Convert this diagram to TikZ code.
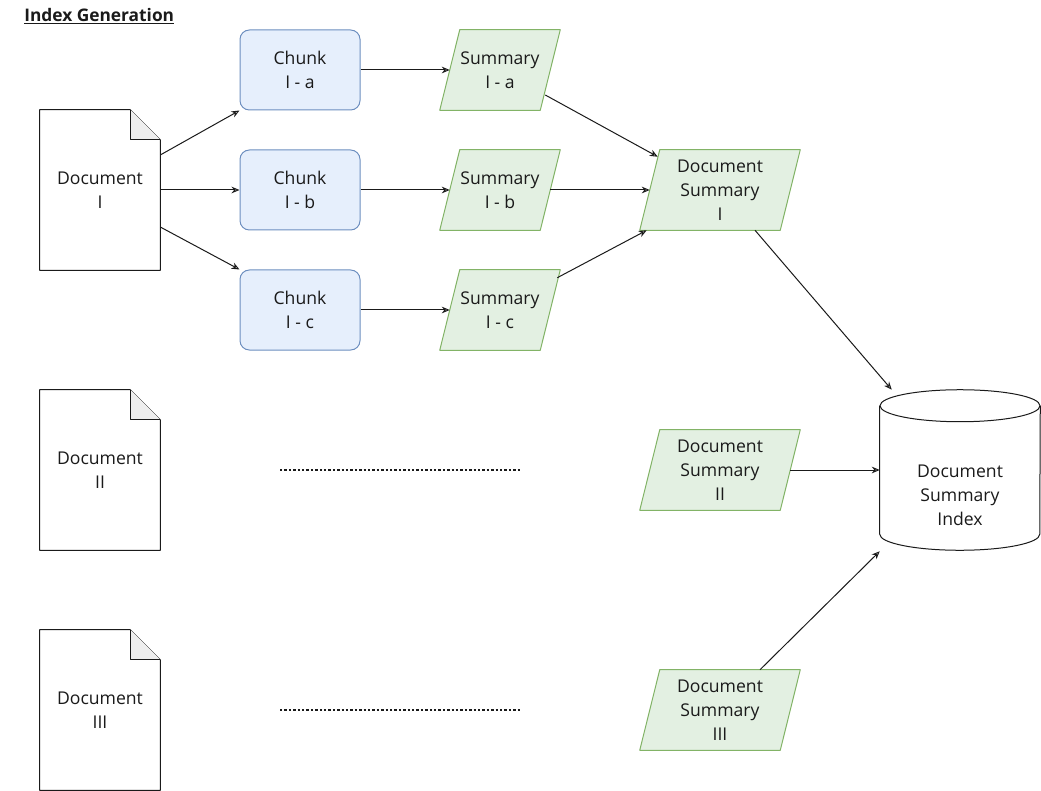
\documentclass[tikz,border=0pt]{standalone}
\usepackage{fontspec}
\setmainfont{Open Sans}
\usetikzlibrary{arrows.meta,calc,backgrounds}
\definecolor{bfill}{HTML}{E6EFFC}
\definecolor{bline}{HTML}{6C8EBF}
\definecolor{gfill}{HTML}{E3F0E2}
\definecolor{gline}{HTML}{82B366}
\definecolor{fold}{HTML}{EEEEEE}
\definecolor{ink}{HTML}{1A1A1A}
\begin{document}
\begin{tikzpicture}[x=0.75pt,y=-0.75pt,
  font=\fontsize{13.2}{18}\selectfont,
  every node/.style={text=ink, align=center, inner sep=0pt},
  box/.style={rectangle, minimum width=90pt, minimum height=60pt},
  docbox/.style={rectangle, minimum width=90pt, minimum height=120pt},
  chunkbox/.style={box, draw=bline, fill=bfill, rounded corners=7pt, line width=0.75pt},
  wide/.style={rectangle, minimum width=120pt, minimum height=60pt},
  outline/.style={draw=ink, line width=0.75pt, fill=white, line join=round},
  para/.style={draw=gline, fill=gfill, line width=0.75pt, line join=round},
  conn/.style={draw=ink, line width=0.75pt, -{Stealth[open,length=6pt,width=5pt]}},
  dotline/.style={draw=ink, line width=1.4pt, dash pattern=on 1.8pt off 1.5pt}
]
\useasboundingbox (0,0) rectangle (1041,791);

% title
\node[anchor=west, font=\fontsize{13}{15}\selectfont\bfseries] (title) at (24,16) {\underline{Index Generation}};

% documents
\node[docbox] (d1) at (100,190) {Document\\I};
\node[docbox] (d2) at (100,470) {Document\\II};
\node[docbox] (d3) at (100,710) {Document\\III};

% chunks
\node[chunkbox] (ca) at (300,70) {Chunk\\I - a};
\node[chunkbox] (cb) at (300,190) {Chunk\\I - b};
\node[chunkbox] (cc) at (300,310) {Chunk\\I - c};

% summaries
\node[box] (sa) at (500,70) {Summary\\I - a};
\node[box] (sb) at (500,190) {Summary\\I - b};
\node[box] (sc) at (500,310) {Summary\\I - c};

% document summaries
\node[wide] (ds1) at (720,190) {Document\\Summary\\I};
\node[wide] (ds2) at (720,470) {Document\\Summary\\II};
\node[wide] (ds3) at (720,710) {Document\\Summary\\III};

% database
\node[rectangle, minimum width=120pt, minimum height=120pt] (db) at (960,470) {};
\node (dbl) at (960,495) {Document\\Summary\\Index};

\begin{scope}[on background layer]
  \foreach \d in {d1,d2,d3}{
    \draw[outline] (\d.north west) -- ($(\d.north east)+(-30,0)$) -- ($(\d.north east)+(0,30)$)
      -- (\d.south east) -- (\d.south west) -- cycle;
    \draw[outline, fill=fold] ($(\d.north east)+(-30,0)$) -- ($(\d.north east)+(-30,30)$) -- ($(\d.north east)+(0,30)$);
  }
  \foreach \s in {sa,sb,sc}{
    \draw[para] ($(\s.north west)+(20,0)$) -- (\s.north east) -- ($(\s.south east)+(-20,0)$) -- (\s.south west) -- cycle;
  }
  \foreach \s in {ds1,ds2,ds3}{
    \draw[para] ($(\s.north west)+(20,0)$) -- (\s.north east) -- ($(\s.south east)+(-20,0)$) -- (\s.south west) -- cycle;
  }
  % cylinder
  \draw[outline] ($(db.north west)+(0,16)$) -- ($(db.south west)+(0,-16)$)
     arc[start angle=180, end angle=360, x radius=60pt, y radius=12pt]
     -- ($(db.north east)+(0,16)$);
  \draw[outline] ($(db.north)+(0,16)$) ellipse [x radius=60pt, y radius=12pt];
\end{scope}

% connectors
\draw[conn] ($(d1.east)+(0,-35)$) -- (ca.south west);
\draw[conn] (d1.east) -- (cb.west);
\draw[conn] ($(d1.east)+(0,37)$) -- (cc.north west);
\draw[conn] (ca.east) -- ($(sa.west)+(10,0)$);
\draw[conn] (cb.east) -- ($(sb.west)+(10,0)$);
\draw[conn] (cc.east) -- ($(sc.west)+(10,0)$);
\draw[conn] ($(sa.east)+(-15,25)$) -- ($(ds1.north west)+(18,7)$);
\draw[conn] ($(sb.east)+(-10,0)$) -- ($(ds1.west)+(10,0)$);
\draw[conn] ($(sc.north east)+(-3,8)$) -- ($(ds1.south west)+(7,0)$);
\draw[conn] ($(ds1.south)+(35,0)$) -- ($(db.north west)+(12,0)$);
\draw[conn] ($(ds2.east)+(-10,0)$) -- (db.west);
\draw[conn] ($(ds3.north)+(40,0)$) -- ($(db.south west)+(0,1)$);

% dotted lines
\coordinate (l2a) at (280,470);
\coordinate (l2b) at (520,470);
\coordinate (l3a) at (280,710);
\coordinate (l3b) at (520,710);
\draw[dotline] (l2a) -- (l2b);
\draw[dotline] (l3a) -- (l3b);
\end{tikzpicture}
\end{document}
